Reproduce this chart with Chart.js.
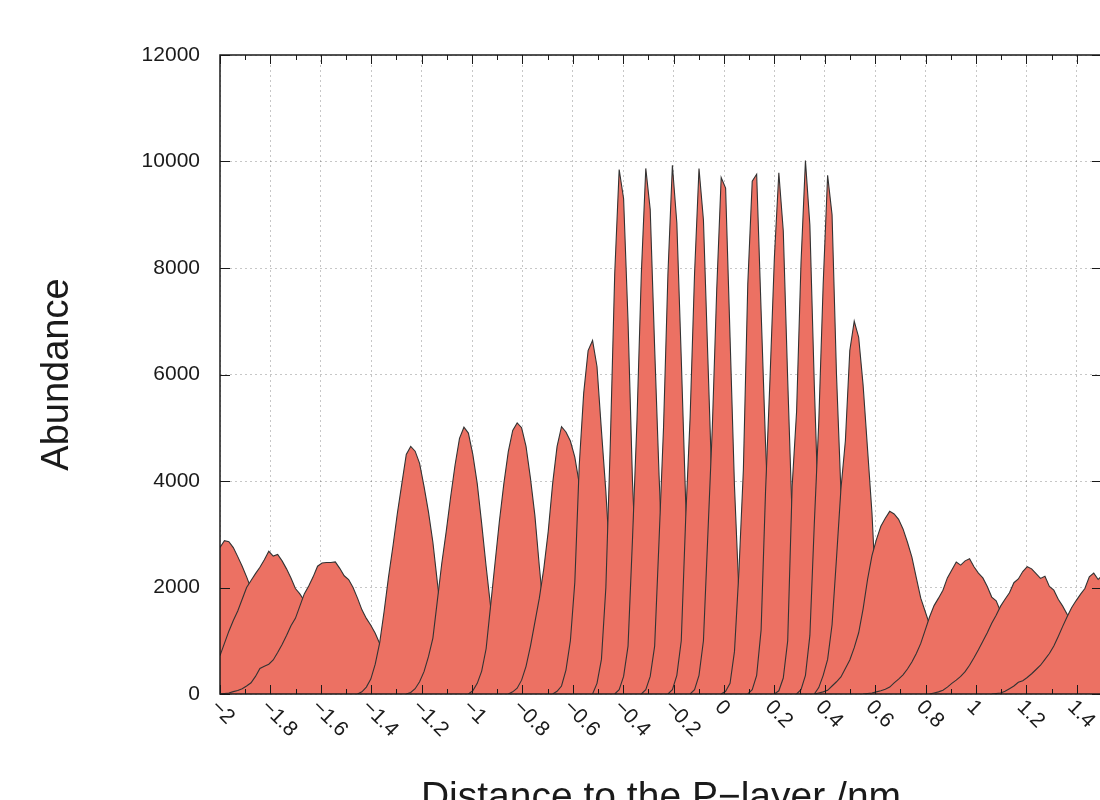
<!DOCTYPE html>
<html>
<head>
<meta charset="utf-8">
<title>Abundance vs distance to the P-layer</title>
<script src="https://cdn.jsdelivr.net/npm/chart.js@4.4.1/dist/chart.umd.min.js"></script>
<style>
    html, body { margin: 0; padding: 0; width: 1100px; height: 800px; overflow: hidden; background: #fff; }
    canvas { display: block; }
</style>
</head>
<body>
<canvas id="profileChart" width="1110" height="820"></canvas>
<script>
// -----------------------------------------------------------------------------
// Histogram of distances to the P-layer, one filled profile per layer
// -----------------------------------------------------------------------------

// Histogram bins: bin k sits at binStart + k * binWidth (nm)
const binStart = -2;
const binWidth = 0.0176;

// Index of the first bin of each profile (left to right)
const firstBin = [0, 0, 0, 31, 42, 56, 65, 75, 84, 89, 95, 101, 106, 113, 119, 125, 130, 134, 134, 145, 160, 174];

// Counts per bin
const counts01 = [2750, 2880, 2860, 2750, 2580, 2400, 2200, 1980, 1750, 1500, 1250, 1000, 760, 550, 380, 240, 130, 60, 20, 0];
const counts02 = [720, 950, 1180, 1380, 1560, 1780, 2000, 2130, 2260, 2380, 2520, 2680, 2590, 2620, 2500, 2350, 2180, 1980, 1880, 1750, 1500, 1250, 1000, 780, 580, 400, 260, 150, 70, 20, 0];
const counts03 = [0, 10, 20, 45, 65, 100, 150, 210, 330, 480, 520, 560, 640, 780, 930, 1100, 1280, 1420, 1650, 1880, 2030, 2200, 2400, 2460, 2470, 2470, 2480, 2360, 2220, 2150, 2000, 1800, 1580, 1420, 1290, 1140, 950, 700, 480, 300, 170, 80, 30, 0];
const counts04 = [0, 40, 130, 280, 560, 960, 1550, 2200, 2780, 3400, 3950, 4500, 4650, 4560, 4330, 3900, 3420, 2850, 2100, 1400, 800, 400, 150, 40, 0];
const counts05 = [0, 30, 100, 230, 420, 700, 1050, 1750, 2450, 3050, 3700, 4300, 4800, 5010, 4900, 4500, 3950, 3200, 2400, 1650, 950, 450, 150, 40, 0];
const counts06 = [0, 60, 200, 430, 850, 1650, 2450, 3250, 3950, 4550, 4950, 5090, 5000, 4650, 4050, 3350, 2400, 1500, 900, 400, 150, 40, 0];
const counts07 = [0, 40, 110, 260, 520, 900, 1350, 1800, 2350, 3050, 3950, 4650, 5020, 4920, 4750, 4450, 3950, 3000, 1900, 900, 350, 100, 0];
const counts08 = [0, 50, 150, 450, 1000, 2100, 4300, 5650, 6450, 6640, 6150, 4950, 3800, 2400, 1200, 500, 150, 0];
const counts09 = [0, 200, 650, 2000, 4700, 7900, 9850, 9300, 7000, 4000, 2000, 900, 300, 80, 0];
const counts10 = [0, 80, 330, 900, 2900, 5100, 7900, 9870, 9100, 6500, 4100, 2000, 900, 300, 80, 0];
const counts11 = [0, 80, 330, 900, 2900, 5000, 7900, 9930, 8850, 6300, 3600, 1700, 700, 200, 50, 0];
const counts12 = [0, 80, 350, 1000, 3300, 5200, 7900, 9870, 8900, 6300, 3700, 1700, 700, 200, 50, 0];
const counts13 = [0, 80, 350, 1000, 3000, 5000, 7600, 9700, 9500, 6700, 3900, 1900, 800, 250, 60, 0];
const counts14 = [0, 50, 200, 800, 2300, 4200, 7700, 9630, 9760, 7200, 4700, 2600, 1100, 400, 100, 0];
const counts15 = [0, 80, 350, 1200, 3800, 5900, 8200, 9790, 8700, 5900, 3300, 1500, 600, 150, 0];
const counts16 = [0, 60, 300, 1000, 3900, 5300, 8100, 10020, 8800, 5800, 3200, 1400, 500, 100, 0];
const counts17 = [0, 80, 350, 1100, 3200, 5100, 7700, 9740, 9000, 6000, 3800, 1900, 800, 250, 50, 0];
const counts18 = [0, 120, 350, 650, 1300, 2550, 3850, 4750, 6450, 7000, 6700, 5800, 4600, 3400, 1700, 800, 300, 80, 0];
const counts19 = [0, 20, 40, 70, 150, 230, 320, 480, 640, 870, 1150, 1600, 2150, 2600, 2900, 3150, 3300, 3430, 3380, 3280, 3100, 2850, 2570, 2180, 1800, 1550, 1300, 1000, 750, 500, 320, 180, 80, 20, 0];
const counts20 = [0, 10, 20, 40, 60, 90, 130, 210, 280, 360, 470, 600, 760, 950, 1200, 1450, 1660, 1800, 1950, 2180, 2330, 2480, 2420, 2500, 2540, 2390, 2270, 2180, 2020, 1820, 1750, 1550, 1300, 1050, 800, 600, 400, 250, 130, 50, 0];
const counts21 = [0, 20, 40, 70, 130, 200, 260, 330, 420, 540, 680, 830, 990, 1150, 1330, 1480, 1650, 1780, 1900, 2090, 2160, 2300, 2390, 2350, 2260, 2170, 2210, 2020, 1950, 1780, 1650, 1500, 1250, 1000, 750, 550, 350, 200, 100, 40];
const counts22 = [0, 10, 20, 50, 100, 150, 220, 250, 310, 380, 460, 540, 650, 760, 900, 1080, 1270, 1450, 1620, 1750, 1870, 1980, 2200, 2270, 2150, 2230, 2150];

// Axis ticks
const xTickValues = [-2, -1.8, -1.6, -1.4, -1.2, -1, -0.8, -0.6, -0.4, -0.2, 0, 0.2, 0.4, 0.6, 0.8, 1, 1.2, 1.4];
const xTickLabels = ['\u22122', '\u22121.8', '\u22121.6', '\u22121.4', '\u22121.2', '\u22121', '\u22120.8', '\u22120.6', '\u22120.4', '\u22120.2',
                     '0', '0.2', '0.4', '0.6', '0.8', '1', '1.2', '1.4'];
const yTickValues = [0, 2000, 4000, 6000, 8000, 10000, 12000];
const yTickLabels = ['0', '2000', '4000', '6000', '8000', '10000', '12000'];

const profiles = [counts01, counts02, counts03, counts04, counts05, counts06, counts07, counts08,
                  counts09, counts10, counts11, counts12, counts13, counts14, counts15, counts16,
                  counts17, counts18, counts19, counts20, counts21, counts22];

const FONT = "'Liberation Sans', Arial, Helvetica, sans-serif";
const INK = '#1a1a1a';

// Profiles further right are painted over the ones on their left
const datasets = profiles.map((counts, i) => ({
    data: counts.map((c, j) => ({ x: binStart + (firstBin[i] + j) * binWidth, y: c })),
    order: profiles.length - i,
    fill: 'origin',
    backgroundColor: 'rgb(236, 113, 99)',
    borderColor: '#333333',
    borderWidth: 1.1,
    pointRadius: 0,
    pointHitRadius: 0,
    tension: 0
}));

// Frame, inward tick marks and rotated x labels (gnuplot look)
const framePlugin = {
    id: 'frame',
    afterDraw(chart) {
        const { ctx, chartArea: a, scales: { x, y } } = chart;
        ctx.save();
        ctx.strokeStyle = INK;
        ctx.lineWidth = 1;
        ctx.beginPath();
        xTickValues.forEach(v => {
            const px = Math.round(x.getPixelForValue(v)) + 0.5;
            ctx.moveTo(px, a.bottom); ctx.lineTo(px, a.bottom - 9);
            ctx.moveTo(px, a.top); ctx.lineTo(px, a.top + 9);
            const pm = Math.round(x.getPixelForValue(v + 0.1)) + 0.5;
            if (pm < a.right) {
                ctx.moveTo(pm, a.bottom); ctx.lineTo(pm, a.bottom - 5);
                ctx.moveTo(pm, a.top); ctx.lineTo(pm, a.top + 5);
            }
        });
        yTickValues.forEach(v => {
            const py = Math.round(y.getPixelForValue(v)) + 0.5;
            ctx.moveTo(a.left, py); ctx.lineTo(a.left + 10, py);
            ctx.moveTo(a.right, py); ctx.lineTo(a.right - 10, py);
        });
        ctx.stroke();

        ctx.lineWidth = 1.5;
        ctx.strokeRect(a.left, a.top, a.right - a.left, a.bottom - a.top);

        ctx.fillStyle = INK;
        ctx.font = '21px ' + FONT;
        ctx.textAlign = 'left';
        ctx.textBaseline = 'middle';
        xTickValues.forEach((v, i) => {
            const px = x.getPixelForValue(v);
            ctx.save();
            ctx.translate(px - 6, a.bottom + 10);
            ctx.rotate(Math.PI / 4);
            ctx.fillText(xTickLabels[i], 0, 0);
            ctx.restore();
        });
        ctx.restore();
    }
};

const ctx = document.getElementById('profileChart').getContext('2d');

new Chart(ctx, {
    type: 'line',
    data: { datasets: datasets },
    options: {
        responsive: false,
        animation: false,
        events: [],
        layout: { padding: { top: 55, right: 8, left: 0, bottom: 0 } },
        plugins: {
            legend: { display: false },
            tooltip: { enabled: false }
        },
        scales: {
            x: {
                type: 'linear',
                min: -2,
                max: 1.5,
                z: 1,
                afterBuildTicks: scale => { scale.ticks = xTickValues.map(v => ({ value: v })); },
                afterFit: scale => { scale.height = 126; },
                ticks: { display: false },
                grid: { color: 'rgba(0, 0, 0, 0.22)', lineWidth: 1, drawTicks: false },
                border: { display: false, dash: [2, 3] },
                title: {
                    display: true,
                    text: 'Distance to the P\u2212layer /nm',
                    color: INK,
                    font: { family: FONT, size: 39, lineHeight: 1 },
                    padding: { top: 0, bottom: 2 }
                }
            },
            y: {
                type: 'linear',
                min: 0,
                max: 12000,
                z: 1,
                afterBuildTicks: scale => { scale.ticks = yTickValues.map(v => ({ value: v })); },
                afterFit: scale => { scale.width = 220; },
                ticks: {
                    color: INK,
                    padding: 20,
                    font: { family: FONT, size: 21 },
                    callback: (value, index) => yTickLabels[index]
                },
                grid: { color: 'rgba(0, 0, 0, 0.22)', lineWidth: 1, drawTicks: false },
                border: { display: false, dash: [2, 3] },
                title: {
                    display: true,
                    text: 'Abundance',
                    color: INK,
                    font: { family: FONT, size: 38, lineHeight: 1 },
                    padding: { top: 39, bottom: 0 }
                }
            }
        }
    },
    plugins: [framePlugin]
});
</script>
</body>
</html>
